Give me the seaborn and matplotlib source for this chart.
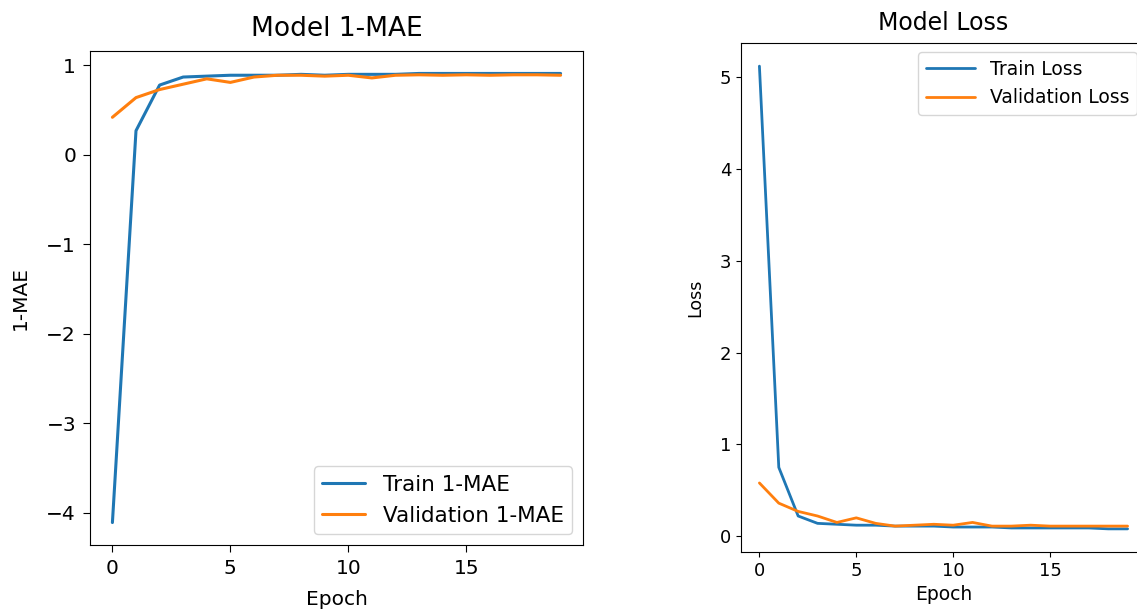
import pandas as pd
import matplotlib.pyplot as plt
import seaborn as sns

# Configuración general
sns.set_style("ticks")
plt.rcParams["font.family"] = ["DejaVu Sans"]
plt.rcParams["text.color"] = "black"
plt.rcParams["axes.labelcolor"] = "black"
plt.rcParams["xtick.color"] = "black"
plt.rcParams["ytick.color"] = "black"

# -----------------------------
# DATOS
# -----------------------------
epochs = list(range(20))

train_mae = [-4.11, 0.27, 0.78, 0.87, 0.88, 0.89, 0.89, 0.89, 0.90, 0.89,
             0.90, 0.90, 0.90, 0.91, 0.91, 0.91, 0.91, 0.91, 0.91, 0.91]
val_mae = [0.42, 0.64, 0.73, 0.79, 0.85, 0.81, 0.87, 0.89, 0.89, 0.88,
           0.89, 0.86, 0.89, 0.895, 0.89, 0.895, 0.89, 0.895, 0.895, 0.89]

train_loss = [5.12, 0.75, 0.22, 0.14, 0.13, 0.12, 0.12, 0.11, 0.11, 0.11,
              0.10, 0.10, 0.10, 0.09, 0.09, 0.09, 0.09, 0.09, 0.08, 0.08]
val_loss = [0.58, 0.36, 0.27, 0.22, 0.15, 0.20, 0.14, 0.11, 0.12, 0.13,
            0.12, 0.15, 0.11, 0.11, 0.12, 0.11, 0.11, 0.11, 0.11, 0.11]

colores = ["#1f77b4", "#ff7f0e"]

df_mae = pd.DataFrame({
    "Epoch": epochs * 2,
    "valor": train_mae + val_mae,
    "serie": ["Train 1-MAE"] * 20 + ["Validation 1-MAE"] * 20,
})
df_loss = pd.DataFrame({
    "Epoch": epochs * 2,
    "valor": train_loss + val_loss,
    "serie": ["Train Loss"] * 20 + ["Validation Loss"] * 20,
})

fig = plt.figure(figsize=(11.37, 6.13), dpi=100)
W, H = 1137, 613

# -----------------------------
# Panel izquierdo: 1-MAE
# -----------------------------
ax1 = fig.add_axes([90 / W, (H - 545) / H, 493 / W, 494 / H])
sns.lineplot(data=df_mae, x="Epoch", y="valor", hue="serie",
             palette=colores, linewidth=2.2, ax=ax1)
ax1.set_title("Model 1-MAE", fontsize=19, pad=11)
ax1.set_xlabel("Epoch", fontsize=14.5, labelpad=9)
ax1.set_ylabel("1-MAE", fontsize=14.5, labelpad=12)
ax1.set_xticks([0, 5, 10, 15])
ax1.tick_params(labelsize=14.5, length=5, pad=5)
for s in ax1.spines.values():
    s.set_color("black")
ax1.legend(loc="lower right", fontsize=15.5)

# -----------------------------
# Panel derecho: Loss
# -----------------------------
ax2 = fig.add_axes([741 / W, (H - 552) / H, 405 / W, 509 / H])
sns.lineplot(data=df_loss, x="Epoch", y="valor", hue="serie",
             palette=colores, linewidth=2.0, ax=ax2)
ax2.set_title("Model Loss", fontsize=17, pad=9)
ax2.set_xlabel("Epoch", fontsize=13.5, labelpad=4)
ax2.set_ylabel("Loss", fontsize=12.5, labelpad=11)
ax2.set_xticks([0, 5, 10, 15])
ax2.tick_params(labelsize=13)
for s in ax2.spines.values():
    s.set_color("black")
ax2.legend(loc="upper right", fontsize=13.5, handlelength=2.6)

plt.savefig("out.png", dpi=100)
